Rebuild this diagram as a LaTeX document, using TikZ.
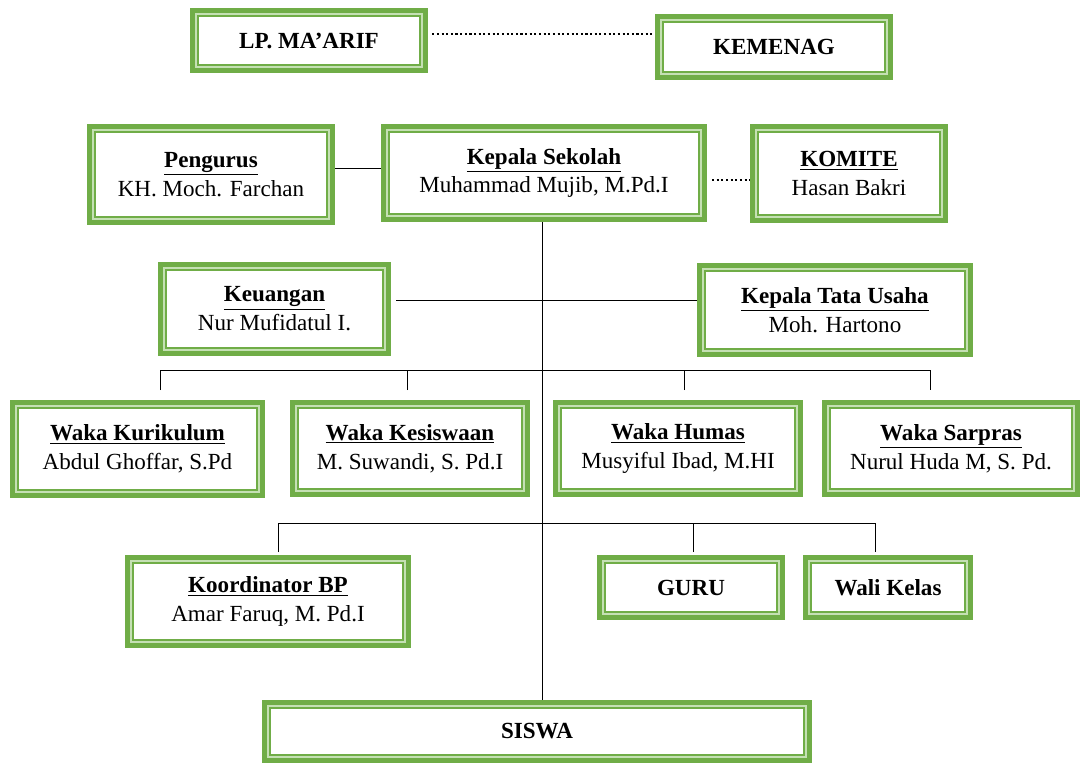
\documentclass[tikz,border=0pt]{standalone}
\usepackage{fontspec}
\setmainfont{Liberation Serif}

\definecolor{grn}{HTML}{70AD47}
\definecolor{grnlt}{HTML}{C5E0B4}

\tikzset{
	orgbox/.style={fill=grn, align=center, inner sep=0pt,
		font=\fontsize{16.4}{20.5}\selectfont,
		path picture={
			\fill[grnlt] ([shift={(3.6pt,3.6pt)}]path picture bounding box.south west) rectangle ([shift={(-3.6pt,-3.6pt)}]path picture bounding box.north east);
			\fill[grn] ([shift={(5pt,5pt)}]path picture bounding box.south west) rectangle ([shift={(-5pt,-5pt)}]path picture bounding box.north east);
			\fill[white] ([shift={(6.2pt,6.2pt)}]path picture bounding box.south west) rectangle ([shift={(-6.2pt,-6.2pt)}]path picture bounding box.north east);
		}},
	boxsize/.style 2 args={minimum width=#1*0.025cm, minimum height=#2*0.025cm},
	link/.style={draw=black, line width=0.7pt},
	dotlink/.style={draw=black, line width=1.5pt, dash pattern=on 1.5pt off 1.8pt},
}

\begin{document}
\begin{tikzpicture}[x=0.025cm, y=-0.025cm]
	\useasboundingbox (0,0) rectangle (1080,763);
	% Boxes:
	\node[orgbox, boxsize={238}{65}] (lp) at (309, 40.5) {\textbf{LP. MA’ARIF}};
	\node[orgbox, boxsize={238}{66}] (kemenag) at (774, 47) {\textbf{KEMENAG}};
	\node[orgbox, boxsize={248}{101}] (pengurus) at (211, 174.5) {\underline{\textbf{Pengurus}}\\KH. Moch. Farchan};
	\node[orgbox, boxsize={326}{98}] (kepsek) at (544, 173) {\underline{\textbf{Kepala Sekolah}}\\Muhammad Mujib, M.Pd.I};
	\node[orgbox, boxsize={198}{99}] (komite) at (849, 173.5) {\underline{\textbf{KOMITE}}\\Hasan Bakri};
	\node[orgbox, boxsize={233}{94}] (keu) at (274.5, 309) {\underline{\textbf{Keuangan}}\\Nur Mufidatul I.};
	\node[orgbox, boxsize={276}{94}] (ktu) at (835, 310) {\underline{\textbf{Kepala Tata Usaha}}\\Moh. Hartono};
	\node[orgbox, boxsize={255}{98}] (kur) at (137.5, 449) {\underline{\textbf{Waka Kurikulum}}\\Abdul Ghoffar, S.Pd};
	\node[orgbox, boxsize={240}{97}] (kes) at (410, 448.5) {\underline{\textbf{Waka Kesiswaan}}\\M. Suwandi, S. Pd.I};
	\node[orgbox, boxsize={250}{97}] (humas) at (678, 448.5) {\underline{\textbf{Waka Humas}}\\Musyiful Ibad, M.HI};
	\node[orgbox, boxsize={258}{97}] (sarpras) at (951, 448.5) {\underline{\textbf{Waka Sarpras}}\\Nurul Huda M, S. Pd.};
	\node[orgbox, boxsize={286}{93}] (bp) at (268, 601.5) {\underline{\textbf{Koordinator BP}}\\Amar Faruq, M. Pd.I};
	\node[orgbox, boxsize={188}{65}] (guru) at (691, 587.5) {\textbf{GURU}};
	\node[orgbox, boxsize={170}{65}] (wali) at (888, 587.5) {\textbf{Wali Kelas}};
	\node[orgbox, boxsize={550}{63}] (siswa) at (537, 731.5) {\textbf{SISWA}};
	% Bus ends:
	\coordinate (d1) at (160, 390);
	\coordinate (d2) at (407, 390);
	\coordinate (d3) at (684, 390);
	\coordinate (d4) at (930, 390);
	\coordinate (e1) at (278, 552);
	\coordinate (e2) at (693, 552);
	\coordinate (e3) at (875, 552);
	% Lines:
	\draw[dotlink] ([yshift=0.16cm]lp.east) ++(0.1cm,0) -- ([yshift=0.16cm]lp.east -| kemenag.west);
	\draw[link] ([yshift=0.16cm]pengurus.east) -- ([yshift=0.16cm]pengurus.east -| kepsek.west);
	\draw[dotlink] ([yshift=-0.17cm]kepsek.east) ++(0.12cm,0) -- ([yshift=-0.17cm]kepsek.east -| komite.west);
	\draw[link] ([yshift=0.22cm]keu.east) ++(0.12cm,0) -- ([yshift=0.22cm]keu.east -| ktu.west);
	\draw[link] ([xshift=-0.05cm]kepsek.south) -- ([xshift=-0.05cm]kepsek.south |- siswa.north);
	\draw[link] (d1) -- ++(0,-20) -| (d4);
	\draw[link] (d2) -- ++(0,-20);
	\draw[link] (d3) -- ++(0,-20);
	\draw[link] (e1) -- ++(0,-29) -| (e3);
	\draw[link] (e2) -- ++(0,-29);
\end{tikzpicture}
\end{document}
